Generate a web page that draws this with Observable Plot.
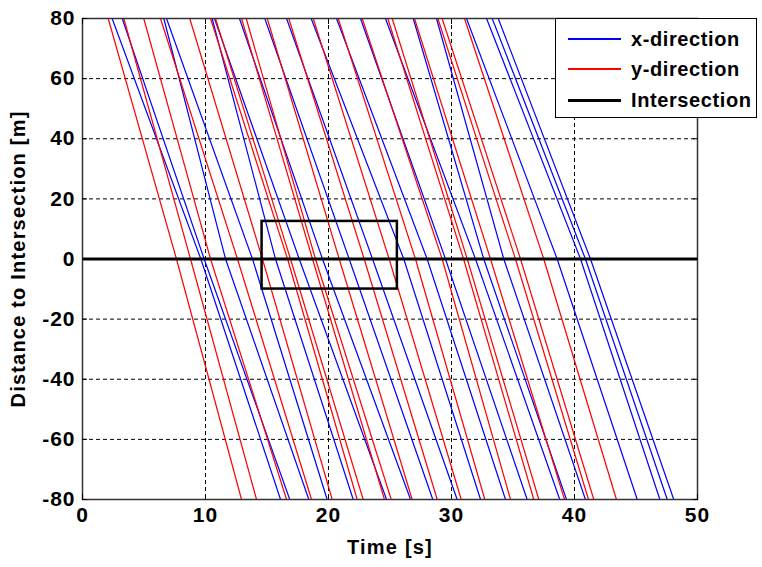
<!DOCTYPE html>
<html>
<head>
<meta charset="utf-8">
<script src="https://cdn.jsdelivr.net/npm/d3@7"></script>
<script src="https://cdn.jsdelivr.net/npm/@observablehq/plot@0.6"></script>
<style>
  body { margin: 0; background: #fff; }
  #wrap { position: relative; width: 762px; height: 567px; font-family: "Liberation Sans", Arial, sans-serif; }
  #legend { position: absolute; left: 555px; top: 18px; width: 200px; height: 98px;
            border: 1px solid #000; background: #fff; }
  #legend svg { position: absolute; left: 0; top: 0; }
  #legend .label { position: absolute; left: 75px; font-size: 20px; font-weight: bold;
                   letter-spacing: 0.6px; white-space: nowrap; color: #000; line-height: 24px; }
</style>
</head>
<body>
<div id="wrap">
  <div id="chart"></div>
  <div id="legend"></div>
</div>
<script>
// Distance of the three sampled positions along each trajectory [m]
const distances = [80, 0, -80];

// Vehicles travelling in the y-direction: time [s] at +80 m, 0 m and -80 m
const redTop = [2.09, 3.36, 4.98, 6.34, 8.72, 10.41, 10.81, 12.93, 13.31, 15.02, 16.77, 18.76, 20.79, 22.74, 24.82, 25.18, 26.99, 28.89, 29.24, 31.06];
const redMid = [7.64, 8.78, 10.41, 12.60, 14.63, 16.67, 16.91, 18.70, 18.94, 20.87, 22.90, 24.93, 27.07, 29.24, 30.98, 31.28, 33.17, 35.20, 35.61, 37.50];
const redEnd = [12.93, 14.15, 16.59, 18.62, 20.30, 22.33, 22.82, 24.55, 25.10, 26.80, 28.84, 30.79, 32.71, 34.80, 36.69, 37.10, 39.19, 41.14, 41.57, 43.41];

// Vehicles travelling in the x-direction: time [s] at +80 m, 0 m and -80 m
const blueTop = [2.41, 3.23, 6.61, 6.83, 10.54, 10.73, 12.76, 14.82, 16.59, 18.59, 20.65, 22.60, 24.63, 26.89, 28.78, 31.22, 32.85, 33.31, 33.80];
const blueMid = [9.62, 9.89, 11.63, 13.82, 15.69, 17.62, 19.51, 21.68, 23.58, 26.12, 28.02, 29.51, 31.95, 32.62, 34.25, 38.59, 40.49, 40.89, 41.30];
const blueEnd = [16.10, 16.85, 18.40, 19.89, 22.01, 24.72, 26.67, 28.48, 30.46, 32.36, 34.39, 36.15, 38.80, 39.35, 40.89, 45.10, 46.94, 47.54, 48.07];

// Conflict zone around the intersection
const zoneTime = [14.6, 25.6];
const zoneDist = [-10, 12.5];

// Axis ticks
const xTicks = [0, 10, 20, 30, 40, 50];
const yTicks = [-80, -60, -40, -20, 0, 20, 40, 60, 80];
const xGrid = [10, 20, 30, 40];
const yGrid = [-60, -40, -20, 20, 40, 60];

function trajectories(top, mid, end) {
  const rows = [];
  top.forEach((_, i) => {
    [top[i], mid[i], end[i]].forEach((t, k) => rows.push({id: i, t, d: distances[k]}));
  });
  return rows;
}

const redRows = trajectories(redTop, redMid, redEnd);
const blueRows = trajectories(blueTop, blueMid, blueEnd);
const zone = [{t1: zoneTime[0], t2: zoneTime[1], d1: zoneDist[0], d2: zoneDist[1]}];

const font = "'Liberation Sans', Arial, sans-serif";
const plain = d => String(d);

const chart = Plot.plot({
  width: 762,
  height: 567,
  marginLeft: 82,
  marginRight: 65,
  marginTop: 18,
  marginBottom: 68,
  x: {domain: [0, 50]},
  y: {domain: [-80, 80]},
  style: {fontFamily: font, fontSize: "21px", fontWeight: "bold", color: "#000", background: "#fff"},
  marks: [
    Plot.gridX(xGrid, {stroke: "#000", strokeOpacity: 1, strokeWidth: 1, strokeDasharray: "4,3"}),
    Plot.gridY(yGrid, {stroke: "#000", strokeOpacity: 1, strokeWidth: 1, strokeDasharray: "4,3"}),
    Plot.line(blueRows, {x: "t", y: "d", z: "id", stroke: "#0000ff", strokeWidth: 1.2}),
    Plot.line(redRows, {x: "t", y: "d", z: "id", stroke: "#ff0000", strokeWidth: 1.2}),
    Plot.ruleY([0], {stroke: "#000", strokeWidth: 3}),
    Plot.rect(zone, {x1: "t1", x2: "t2", y1: "d1", y2: "d2", fill: "none", stroke: "#000", strokeWidth: 2.5}),
    Plot.frame({stroke: "#333", strokeWidth: 1.5}),
    Plot.axisX({ticks: xTicks, tickSize: -5, tickPadding: 13, tickFormat: plain,
                label: "Time [s]", labelAnchor: "center", labelArrow: "none", labelOffset: 54}),
    Plot.axisX({anchor: "top", ticks: xTicks, tickSize: -5, tickFormat: () => "", label: null}),
    Plot.axisY({ticks: yTicks, tickSize: -5, tickPadding: 12, tickFormat: plain,
                label: "Distance to Intersection [m]", labelAnchor: "center", labelArrow: "none", labelOffset: 72}),
    Plot.axisY({anchor: "right", ticks: yTicks, tickSize: -5, tickFormat: () => "", label: null})
  ]
});

// Tick labels and axis titles share a slightly spaced bold face
d3.select(chart).selectAll("g[aria-label$='tick label'] text").attr("letter-spacing", "1px");
d3.select(chart).selectAll("g[aria-label$='axis label'] text")
  .attr("font-size", "20px").attr("letter-spacing", "1.2px");
document.getElementById("chart").appendChild(chart);

// Legend box
const legendItems = [
  {label: "x-direction", color: "#0000ff", width: 2},
  {label: "y-direction", color: "#ff0000", width: 2},
  {label: "Intersection", color: "#000000", width: 3}
];
const legend = document.getElementById("legend");
const sw = d3.select(legend).append("svg").attr("width", 200).attr("height", 98);
legendItems.forEach((item, i) => {
  const cy = [20, 50, 81][i];
  sw.append("line").attr("x1", 12).attr("x2", 65).attr("y1", cy).attr("y2", cy)
    .attr("stroke", item.color).attr("stroke-width", item.width)
    .attr("shape-rendering", "crispEdges");
  d3.select(legend).append("div").attr("class", "label")
    .style("top", (cy - 12) + "px").text(item.label);
});
</script>
</body>
</html>
